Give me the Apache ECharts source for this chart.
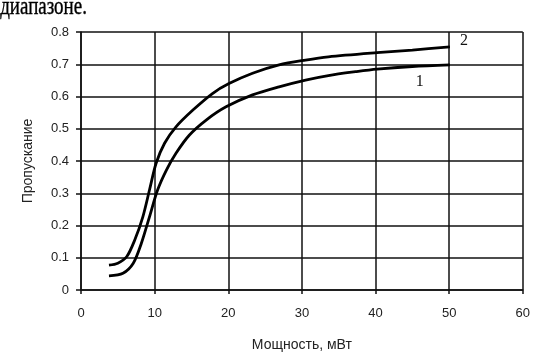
<!DOCTYPE html>
<html><head><meta charset="utf-8">
<script src="https://cdn.jsdelivr.net/npm/echarts@6/dist/echarts.min.js"></script>
<style>html,body{margin:0;padding:0;background:#fff}#c{width:533px;height:361px}</style>
</head><body><div id="c"></div>
<script>
const titleText = 'диапазоне.';
const xName = 'Мощность, мВт';
const yName = 'Пропускание';
const curve1X = [3.8, 5.7, 7.1, 8.2, 9.3, 10.4, 11.6, 12.9, 14.7, 17.0, 19.7, 23.3, 26.9, 30.5, 33.6, 37.3, 40.2, 45, 50.1];
const curve1Y = [0.044, 0.052, 0.083, 0.145, 0.227, 0.31, 0.372, 0.424, 0.48, 0.527, 0.568, 0.605, 0.63, 0.651, 0.665, 0.677, 0.685, 0.693, 0.698];
const curve2X = [3.8, 5.0, 6.2, 7.3, 8.4, 9.3, 10.2, 11.35, 12.9, 15.2, 17.9, 20.1, 23.3, 26.9, 30.5, 33.6, 40.2, 45, 50.1];
const curve2Y = [0.077, 0.083, 0.103, 0.155, 0.227, 0.31, 0.393, 0.455, 0.506, 0.558, 0.61, 0.64, 0.672, 0.698, 0.713, 0.723, 0.736, 0.744, 0.754];
const label1 = '1', label2 = '2';
const label1Pos = [46, 0.645];

const zip = (xs, ys) => xs.map((x, i) => [x, ys[i]]);
const chart = echarts.init(document.getElementById('c'), null, {renderer: 'canvas'});
const txt = '#222';
chart.setOption({
  animation: false,
  backgroundColor: '#fff',
  graphic: [{type: 'text', left: 0, top: -6, scaleX: 0.73,
    style: {text: titleText, font: '26px "Liberation Serif"', fill: '#000', stroke: '#000', lineWidth: 0.4}}],
  grid: {left: 81, right: 9, top: 32, bottom: 71},
  xAxis: {type: 'value', min: 0, max: 60, interval: 10,
    name: xName, nameLocation: 'middle', nameGap: 48,
    nameTextStyle: {fontFamily: 'Liberation Sans', fontSize: 14, color: txt},
    axisLine: {lineStyle: {color: '#111', width: 1.5}},
    axisTick: {show: true, length: 4, lineStyle: {color: '#111', width: 1.5}},
    axisLabel: {margin: 17, fontFamily: 'Liberation Sans', fontSize: 13, color: txt},
    splitLine: {lineStyle: {color: '#111', width: 1.5}}},
  yAxis: {type: 'value', min: 0, max: 0.8, interval: 0.1,
    name: yName, nameLocation: 'middle', nameGap: 46, nameRotate: 90,
    nameTextStyle: {fontFamily: 'Liberation Sans', fontSize: 14, color: txt},
    axisLine: {show: true, lineStyle: {color: '#111', width: 1.5}},
    axisTick: {show: true, length: 5, lineStyle: {color: '#111', width: 1.5}},
    axisLabel: {margin: 12, fontFamily: 'Liberation Sans', fontSize: 13, color: txt,
      formatter: v => (Math.round(v * 10) / 10).toString()},
    splitLine: {lineStyle: {color: '#111', width: 1.5}}},
  series: [
    {type: 'line', data: zip(curve1X, curve1Y), smooth: 0.3, showSymbol: false,
      lineStyle: {color: '#000', width: 2.8},
      markPoint: {symbol: 'circle', symbolSize: 0,
        data: [{coord: label1Pos, label: {show: true, formatter: label1, position: 'inside',
          fontFamily: 'Liberation Serif', fontSize: 16, color: '#111'}}]}},
    {type: 'line', data: zip(curve2X, curve2Y), smooth: 0.3, showSymbol: false,
      lineStyle: {color: '#000', width: 2.8},
      endLabel: {show: true, formatter: label2, distance: 10, offset: [0, -6],
        fontFamily: 'Liberation Serif', fontSize: 16, color: '#111'}}
  ]
});
</script></body></html>
